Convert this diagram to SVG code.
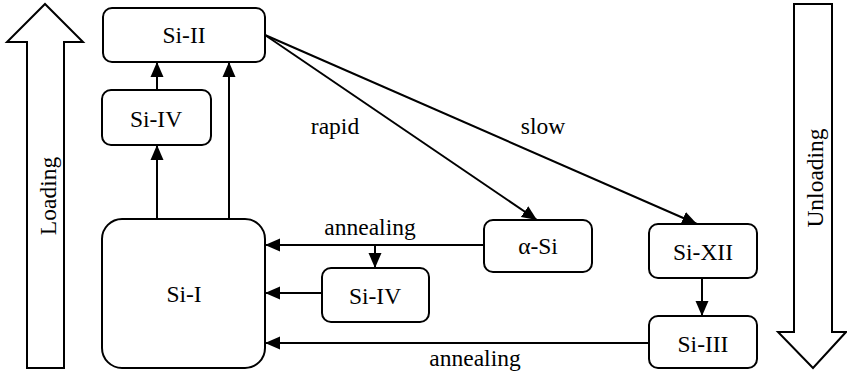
<svg xmlns="http://www.w3.org/2000/svg" width="847" height="374" viewBox="0 0 847 374" font-family="'Liberation Serif', 'Times New Roman', serif">
<style>
.box{fill:#fff;stroke:#000;stroke-width:2}
.blk{fill:#fff;stroke:#000;stroke-width:2;stroke-linejoin:miter}
.ln{fill:none;stroke:#000;stroke-width:2}
.t{font-family:'Liberation Serif','Times New Roman',serif;font-size:23.5px;fill:#000;text-anchor:middle}
</style>
<defs>
<marker id="ah" markerUnits="userSpaceOnUse" markerWidth="16" markerHeight="14" refX="15" refY="7" orient="auto">
<path d="M0,0.5 L15,7 L0,13.5 z" fill="#000"/>
</marker>
</defs>
<g id="loading">
<polygon class="blk" points="27,368 27,42 7,42 45,4 83,42 64,42 64,368"/>
<text class="t" transform="translate(56,196) rotate(-90)">Loading</text>
</g>
<g id="unloading">
<polygon class="blk" points="794,4 832,4 832,332 846,332 813,368 778,332 794,332"/>
<text class="t" transform="translate(823,178) rotate(-90)">Unloading</text>
</g>
<g id="connectors">
<line class="ln" x1="157" y1="90" x2="157" y2="62" marker-end="url(#ah)"/>
<line class="ln" x1="157" y1="219" x2="157" y2="145" marker-end="url(#ah)"/>
<line class="ln" x1="229" y1="219" x2="229" y2="62" marker-end="url(#ah)"/>
<line class="ln" x1="265" y1="35" x2="537" y2="220" marker-end="url(#ah)"/>
<line class="ln" x1="265" y1="35" x2="697" y2="224" marker-end="url(#ah)"/>
<line class="ln" x1="484" y1="245" x2="265" y2="245" marker-end="url(#ah)"/>
<line class="ln" x1="375" y1="245" x2="375" y2="268" marker-end="url(#ah)"/>
<line class="ln" x1="322" y1="293" x2="265" y2="293" marker-end="url(#ah)"/>
<line class="ln" x1="649" y1="343" x2="265" y2="343" marker-end="url(#ah)"/>
<line class="ln" x1="702" y1="278" x2="702" y2="316" marker-end="url(#ah)"/>
<text class="t" x="335" y="134">rapid</text>
<text class="t" x="543" y="134">slow</text>
<text class="t" x="370" y="235">annealing</text>
<text class="t" x="475" y="366">annealing</text>
</g>
<g id="si-ii">
<rect class="box" x="103" y="8" width="162" height="54" rx="9"/>
<text class="t" x="184" y="43">Si-II</text>
</g>
<g id="si-iv-top">
<rect class="box" x="102" y="90" width="109" height="55" rx="9"/>
<text class="t" x="156" y="127">Si-IV</text>
</g>
<g id="si-i">
<rect class="box" x="102" y="219" width="163" height="149" rx="20"/>
<text class="t" x="184" y="302">Si-I</text>
</g>
<g id="alpha-si">
<rect class="box" x="484" y="220" width="108" height="52" rx="9"/>
<text class="t" x="538" y="254">α-Si</text>
</g>
<g id="si-iv-bottom">
<rect class="box" x="322" y="268" width="107" height="54" rx="9"/>
<text class="t" x="375" y="304">Si-IV</text>
</g>
<g id="si-xii">
<rect class="box" x="649" y="224" width="108" height="54" rx="9"/>
<text class="t" x="703" y="260">Si-XII</text>
</g>
<g id="si-iii">
<rect class="box" x="649" y="316" width="108" height="52" rx="9"/>
<text class="t" x="703" y="352">Si-III</text>
</g>
</svg>
